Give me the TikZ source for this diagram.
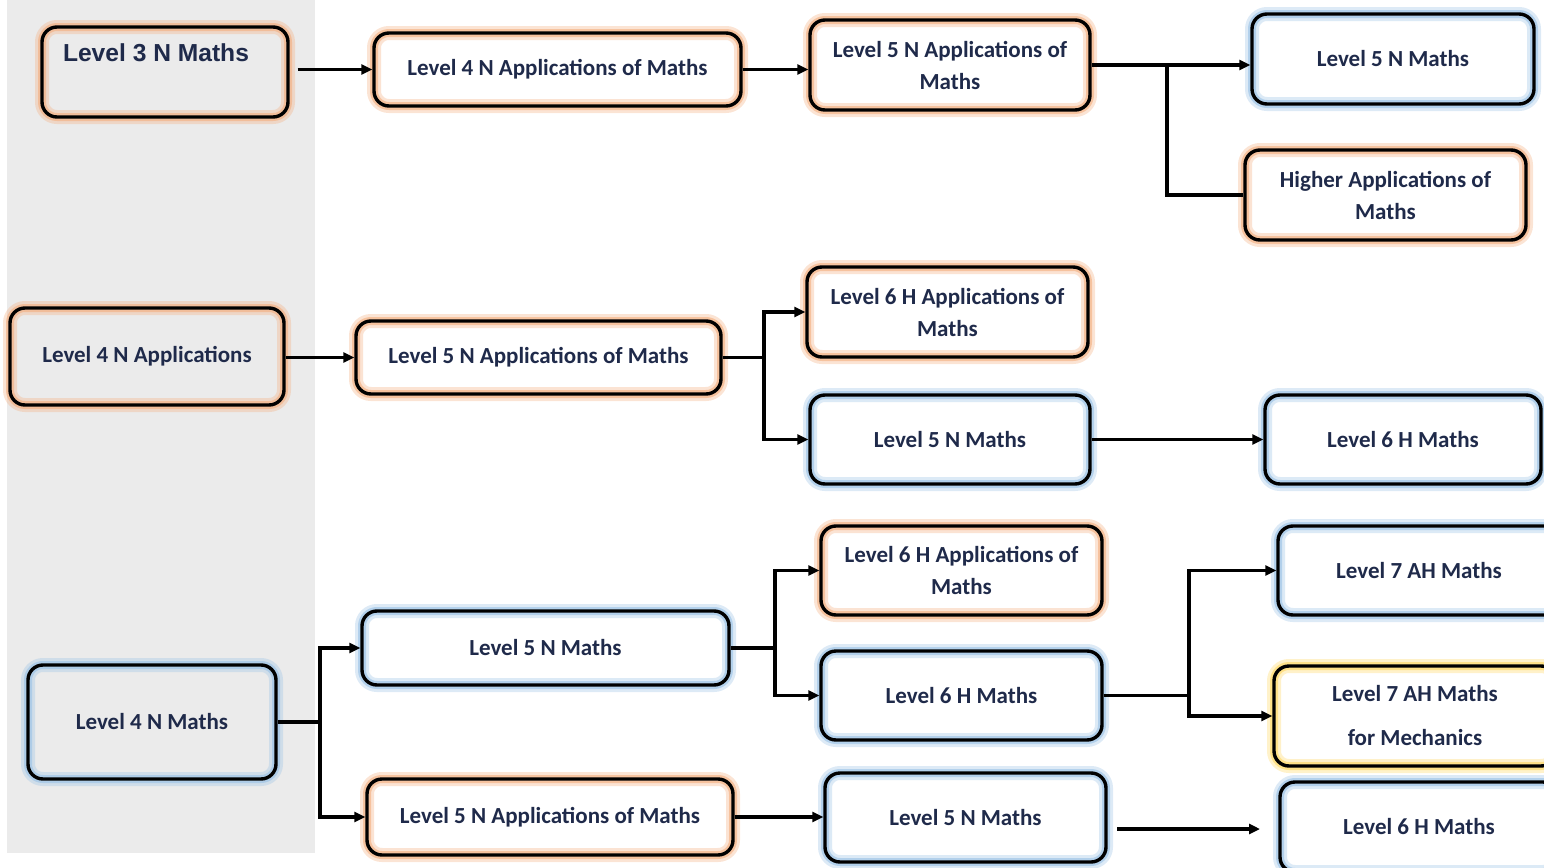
\documentclass[tikz,border=0pt]{standalone}
\usepackage{fontspec}
\setmainfont{Carlito}
\newfontfamily\arialf{Liberation Sans}
\usetikzlibrary{arrows.meta}
\definecolor{bgray}{HTML}{EBEBEB}
\definecolor{navy}{HTML}{1F2A4A}
\definecolor{glowO}{HTML}{F4B183}
\definecolor{glowB}{HTML}{9DC3E6}
\definecolor{glowY}{HTML}{FFD966}
\tikzset{
  box/.style n args={2}{rounded corners=7.5pt, draw=black, line width=1.7pt,
    text=navy, font=\bfseries\fontsize{11.5}{16}\selectfont, align=center, inner sep=2pt,
    preaction={fill=#2},
    preaction={draw=#1, draw opacity=0.35, line width=7pt},
    preaction={draw=#1, draw opacity=0.65, line width=4pt}},
  ow/.style={box={glowO}{white}},
  bw/.style={box={glowB}{white}},
  og/.style={box={glowO}{bgray}},
  bg/.style={box={glowB}{bgray}},
  yw/.style={box={glowY}{white}},
  wire/.style={line width=1.6pt, draw=black},
  arr/.style={wire, -{Triangle[length=5.5pt,width=5pt]}},
}
\begin{document}
\begin{tikzpicture}[x=0.5pt, y=-0.5pt]
\useasboundingbox (0,0) rectangle (1544,868);
\fill[bgray] (7,0) rectangle (315,853);

% row 1
\node[og, minimum width=123pt, minimum height=45pt, font=\arialf\bfseries\fontsize{12.3}{16}\selectfont] (n1) at (165,72) {\hspace*{-9pt}\raisebox{5.5pt}[0pt][0pt]{Level 3 N Maths}};
\node[ow, minimum width=183.5pt, minimum height=36.5pt] (n2) at (557.5,69.5) {Level 4 N Applications of Maths};
\node[ow, minimum width=140pt, minimum height=45pt] (n3) at (950,65) {Level 5 N Applications of\\Maths};
\node[bw, minimum width=141pt, minimum height=45pt] (n4) at (1393,59) {Level 5 N Maths};
\node[ow, minimum width=140.5pt, minimum height=45pt] (n5) at (1385.5,195) {Higher Applications of\\Maths};

% row 2
\node[og, minimum width=137pt, minimum height=48.5pt] (n6) at (147,356.5) {Level 4 N Applications};
\node[ow, minimum width=182.5pt, minimum height=36.5pt] (n7) at (538.5,357.5) {Level 5 N Applications of Maths};
\node[ow, minimum width=140.5pt, minimum height=45pt] (n8) at (947.5,312) {Level 6 H Applications of\\Maths};
\node[bw, minimum width=140pt, minimum height=44.5pt] (n9) at (950,439.5) {Level 5 N Maths};
\node[bw, minimum width=138pt, minimum height=44.5pt] (n10) at (1403,439.5) {Level 6 H Maths};

% row 3
\node[bg, minimum width=124pt, minimum height=57pt] (n11) at (152,722) {Level 4 N Maths};
\node[bw, minimum width=183.5pt, minimum height=37pt] (n12) at (545.5,648) {Level 5 N Maths};
\node[ow, minimum width=183pt, minimum height=38pt] (n13) at (550,817) {Level 5 N Applications of Maths};
\node[ow, minimum width=140.5pt, minimum height=44.5pt] (n14) at (961.5,570.5) {Level 6 H Applications of\\Maths};
\node[bw, minimum width=140.5pt, minimum height=44.5pt] (n15) at (961.5,695.5) {Level 6 H Maths};
\node[bw, minimum width=140.5pt, minimum height=44.5pt] (n16) at (965.5,817.5) {Level 5 N Maths};
\node[bw, minimum width=141pt, minimum height=44.5pt] (n17) at (1419,570.5) {Level 7 AH Maths};
\node[yw, minimum width=141pt, minimum height=50pt] (n18) at (1415,716) {Level 7 AH Maths\\[6pt]for Mechanics};
\node[bw, minimum width=139pt, minimum height=45pt] (n19) at (1419,827) {Level 6 H Maths};

% connectors row 1
\draw[arr, shorten <=4pt] (n1.east |- n2.west) -- (n2.west);
\draw[arr] (n2.east) -- (n3.west |- n2.east);
\draw[arr] (n3.east) -- (n4.west |- n3.east);
\coordinate (j1) at (1167,65);
\draw[wire] (j1) |- (n5.west);

% connectors row 2
\draw[arr] (n6.east |- n7.west) -- (n7.west);
\coordinate (j2) at (764,357.5);
\draw[arr] (n7.east) -- (j2) |- (n8.west);
\draw[arr] (j2) |- (n9.west);
\draw[arr] (n9.east) -- (n10.west);

% connectors row 3
\coordinate (j3) at (320,722);
\draw[arr] (n11.east) -- (j3) |- (n12.west);
\draw[arr] (j3) |- (n13.west);
\coordinate (j4) at (775,648);
\draw[arr] (n12.east) -- (j4) |- (n14.west);
\draw[arr] (j4) |- (n15.west);
\draw[arr] (n13.east) -- (n16.west |- n13.east);
\coordinate (j5) at (1189,695.5);
\draw[arr] (n15.east) -- (j5) |- (n17.west);
\draw[arr] (j5) |- (n18.west);
\coordinate (fa) at (1117,829);
\coordinate (fb) at (1260,829);
\draw[arr] (fa) -- (fb);
\end{tikzpicture}
\end{document}
